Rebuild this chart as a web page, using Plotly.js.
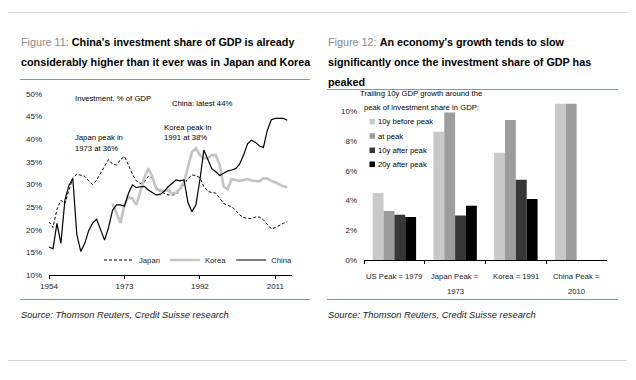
<!DOCTYPE html>
<html><head><meta charset="utf-8">
<script src="https://cdn.plot.ly/plotly-3.0.1.min.js"></script>
<style>html,body{margin:0;padding:0;background:#fff}#c{width:636px;height:380px}</style>
</head><body><div id="c"></div>
<script>
// ---- Figure 11 data: investment, % of GDP ----
const years = [1954,1955,1956,1957,1958,1959,1960,1961,1962,1963,1964,1965,1966,1967,1968,1969,
  1970,1971,1972,1973,1974,1975,1976,1977,1978,1979,1980,1981,1982,1983,1984,1985,1986,1987,1988,1989,
  1990,1991,1992,1993,1994,1995,1996,1997,1998,1999,2000,2001,2002,2003,2004,2005,2006,2007,2008,2009,
  2010,2011,2012,2013,2014];
const japan = [21.8,20.5,24.5,26.5,25.8,28.5,31.5,32.3,32.0,31.8,30.8,30.0,31.0,32.5,34.0,35.5,
  34.5,34.3,35.5,36.2,34.3,32.3,30.8,30.2,30.5,31.8,31.5,29.5,28.4,28.0,27.7,27.7,27.8,28.8,30.0,31.3,
  32.1,32.0,31.5,29.5,28.5,28.2,28.1,27.0,25.8,25.4,25.1,24.3,23.3,22.7,22.5,22.5,22.8,22.8,22.2,21.2,
  20.2,20.5,21.0,21.4,21.8];
const koreaYears = [1970,1971,1972,1973,1974,1975,1976,1977,1978,1979,1980,1981,1982,1983,1984,1985,
  1986,1987,1988,1989,1990,1991,1992,1993,1994,1995,1996,1997,1998,1999,2000,2001,2002,2003,2004,2005,
  2006,2007,2008,2009,2010,2011,2012,2013,2014];
const korea = [25.8,23.5,21.5,25.5,27.3,26.9,25.5,28.5,31.5,33.6,31.8,29.0,28.8,28.5,28.8,28.0,
  28.2,29.0,30.5,34.0,37.2,38.0,36.5,35.8,35.8,36.5,36.5,34.3,29.5,29.0,31.2,31.0,30.8,31.0,31.2,30.9,
  30.8,30.7,31.4,31.3,30.8,30.5,30.0,29.6,29.4];
const china = [16.2,15.8,21.4,17.0,26.5,29.8,31.3,19.0,15.2,17.0,19.8,21.5,22.3,20.0,17.7,20.5,
  24.3,25.5,25.5,25.2,28.0,29.9,29.3,29.5,29.6,28.8,28.2,27.7,27.8,28.5,29.5,30.3,31.0,30.8,31.0,26.0,
  24.0,25.5,31.0,37.6,35.5,33.5,32.8,32.0,32.5,33.0,33.2,33.5,34.5,36.5,39.0,39.8,39.3,38.5,38.2,42.0,
  44.3,44.6,44.6,44.6,44.2];
const lineTicks = [1954,1973,1992,2011];
const lineTickPct = [10,15,20,25,30,35,40,45,50];

// ---- Figure 12 data: trailing 10y GDP growth ----
const barCats = ['US','Japan','Korea','China'];
const barLabel1 = ['US Peak = 1979','Japan Peak =','Korea = 1991','China Peak ='];
const barLabel2 = ['','1973','','2010'];
const barSeries = ['10y before peak','at peak','10y after peak','20y after peak'];
const before10 = [4.5,8.6,7.2,10.5];
const atPeak   = [3.3,9.9,9.4,10.5];
const after10  = [3.05,3.0,5.4,null];
const after20  = [2.9,3.65,4.1,null];
const barTickVals = [0,2,4,6,8,10];
const barColors = ['#c9c9c9','#9d9d9d','#363636','#000000'];

const W = 636, H = 380;
const px = x => x / W, py = y => 1 - y / H;
const FN = 'Liberation Sans, Arial, sans-serif';
const FT = 'Liberation Sans, Arial, sans-serif';
const NS = 7.7;

const traces = [
  {x: years, y: japan, type: 'scatter', mode: 'lines', name: 'Japan', xaxis: 'x', yaxis: 'y',
   line: {color: '#000', width: 1, dash: '3px,2px'}},
  {x: koreaYears, y: korea, type: 'scatter', mode: 'lines', name: 'Korea', xaxis: 'x', yaxis: 'y',
   line: {color: '#c4c4c4', width: 2.6}},
  {x: years, y: china, type: 'scatter', mode: 'lines', name: 'China', xaxis: 'x', yaxis: 'y',
   line: {color: '#000', width: 1.2}}
];
[before10, atPeak, after10, after20].forEach((vals, i) => {
  traces.push({x: barCats, y: vals, type: 'bar', name: barSeries[i], xaxis: 'x2', yaxis: 'y2',
    marker: {color: barColors[i], line: {width: 0}}, showlegend: false, hoverinfo: 'y'});
});

const ann = [];
const A = (x, y, text, size, font, extra) => ann.push(Object.assign({
  xref: 'paper', yref: 'paper', x: px(x), y: py(y), text: text, showarrow: false,
  xanchor: 'left', yanchor: 'middle', font: {family: font || FT, size: size || 10, color: '#000'}}, extra || {}));

// Titles
const TS = 10.8;
A(19, 42, '<span style="color:#8a8a8a">Figure 11:</span> <b>China\'s investment share of GDP is already</b>', TS);
A(19, 62, '<b>considerably higher than it ever was in Japan and Korea</b>', TS);
A(326, 42, '<span style="color:#8a8a8a">Figure 12:</span> <b>An economy\'s growth tends to slow</b>', TS);
A(326, 62, '<b>significantly once the investment share of GDP has</b>', TS);
A(326, 82, '<b>peaked</b>', TS);
// Sources
const SF = {family: FT, size: 9.3, color: '#222'};
A(19, 315, '<i>Source: Thomson Reuters, Credit Suisse research</i>', 9.3, FT, {font: SF});
A(326, 315, '<i>Source: Thomson Reuters, Credit Suisse research</i>', 9.3, FT, {font: SF});
// Left chart notes
A(73, 98, 'Investment, % of GDP', NS, FN);
A(170, 104, 'China: latest 44%', NS, FN);
A(73, 137, 'Japan peak in', NS, FN);
A(73, 148, '1973 at 36%', NS, FN);
A(162, 127, 'Korea peak in', NS, FN);
A(162, 137, '1991 at 38%', NS, FN);
// Right chart legend
A(421, 93.5, 'Trailing 10y GDP growth around the', NS, FN, {xanchor: 'center'});
A(421, 107.5, 'peak of investment share in GDP:', NS, FN, {xanchor: 'center'});
const legY = [121.7, 136, 150.3, 164.3];
const shapes = [];
barSeries.forEach((s, i) => {
  A(376, legY[i], s, NS, FN);
  shapes.push({type: 'rect', xref: 'paper', yref: 'paper', x0: px(369.5), x1: px(375), y0: py(legY[i] + 2.8), y1: py(legY[i] - 2.8),
    fillcolor: barColors[i], line: {width: 0}});
});
// category labels (placed on the category axis)
barCats.forEach((c, i) => {
  ann.push({xref: 'x2', yref: 'paper', x: c, y: py(276), text: barLabel1[i], showarrow: false,
    xanchor: 'center', yanchor: 'middle', font: {family: FN, size: NS, color: '#222'}});
  if (barLabel2[i]) ann.push({xref: 'x2', yref: 'paper', x: c, y: py(291), text: barLabel2[i], showarrow: false,
    xanchor: 'center', yanchor: 'middle', font: {family: FN, size: NS, color: '#222'}});
});
// rules
const L = (x0, x1, y, color, w) => shapes.push({type: 'line', xref: 'paper', yref: 'paper',
  x0: px(x0), x1: px(x1), y0: py(y), y1: py(y), line: {color: color, width: w || 1}});
L(8, 627, 12.5, '#d4d4d4', 1);
L(20, 310, 79.5, '#8596a8', 1);
L(327, 618, 89.5, '#8596a8', 1);
L(20, 310, 299.5, '#8596a8', 1);
L(327, 618, 299.5, '#8596a8', 1);
L(8, 627, 360.5, '#d4d4d4', 1);

const tickFont = {family: FN, size: 8, color: '#222'};
const layout = {
  width: W, height: H, margin: {l: 0, r: 0, t: 0, b: 0},
  paper_bgcolor: '#fff', plot_bgcolor: 'rgba(0,0,0,0)',
  font: {family: FN, size: 8, color: '#222'},
  showlegend: true,
  legend: {orientation: 'h', x: px(99), y: py(260), xanchor: 'left', yanchor: 'middle',
    bgcolor: 'rgba(0,0,0,0)', font: {family: FN, size: NS, color: '#222'}, borderwidth: 0},
  xaxis: {domain: [px(49), px(292)], anchor: 'y', range: [1954, 2015.2], tickvals: lineTicks,
    ticks: 'outside', ticklen: 3, tickcolor: '#000', showline: true, linecolor: '#000', linewidth: 1,
    showgrid: false, zeroline: false, tickfont: tickFont},
  yaxis: {domain: [py(275), py(94)], anchor: 'x', range: [10, 50], tickvals: lineTickPct,
    ticktext: lineTickPct.map(v => v + '%'),
    ticks: '', showline: false, showgrid: false, zeroline: false, tickfont: tickFont, ticklabelstandoff: 6},
  xaxis2: {domain: [px(364), px(607)], anchor: 'y2', type: 'category', tickson: 'boundaries',
    ticks: 'outside', ticklen: 3, tickcolor: '#000', showline: true, linecolor: '#000', linewidth: 1,
    showgrid: false, zeroline: false, showticklabels: false},
  yaxis2: {domain: [py(260.3), py(103.5)], anchor: 'x2', range: [0, 10.5], tickvals: barTickVals,
    ticktext: barTickVals.map(v => v + '%'),
    ticks: '', showline: false, showgrid: false, zeroline: false, tickfont: tickFont, ticklabelstandoff: 6},
  barmode: 'group', bargap: 0.285, bargroupgap: 0,
  annotations: ann, shapes: shapes
};
Plotly.newPlot('c', traces, layout, {displayModeBar: false, staticPlot: true});
</script></body></html>
